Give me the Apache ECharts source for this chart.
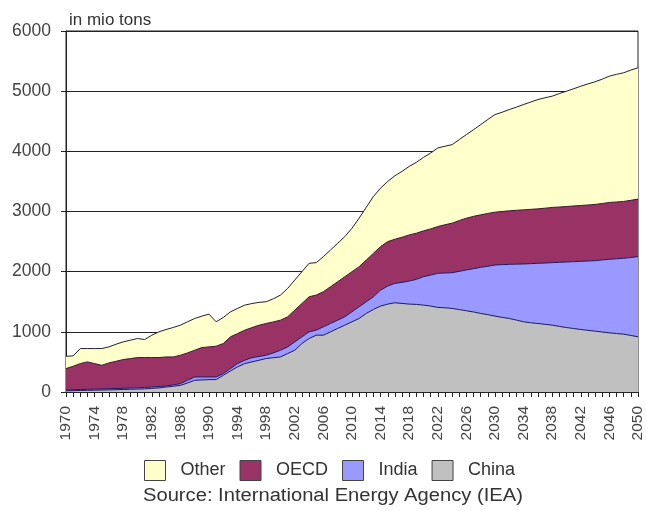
<!DOCTYPE html>
<html>
<head>
<meta charset="utf-8">
<script src="https://cdn.jsdelivr.net/npm/echarts@6/dist/echarts.min.js"></script>
<style>
html,body{margin:0;padding:0;background:#fff;}
#c{width:646px;height:511px;}
</style>
</head>
<body>
<div id="c"></div>
<script>
const years = [];
for (let y = 1970; y <= 2050; y++) years.push(String(y));

const china = [20,22,25,28,30,32,35,38,42,45,48,52,60,68,83,95,110,150,194,200,
  206,206,278,350,417,472,500,528,556,570,583,639,694,806,889,944,944,1000,1056,1111,
  1167,1222,1306,1372,1428,1461,1483,1472,1461,1456,1444,1428,1406,1400,1389,1370,1350,1330,1306,1285,
  1261,1240,1222,1195,1167,1150,1139,1125,1111,1090,1072,1055,1039,1025,1011,997,983,972,961,940,917];
const india = [15,16,17,17,18,18,20,20,20,21,22,23,23,24,17,23,29,45,56,50,
  44,44,28,39,55,56,70,62,55,80,111,111,139,111,111,84,139,139,138,139,
  166,195,194,211,266,300,323,350,383,416,473,516,566,578,594,635,678,720,766,805,
  850,877,900,930,961,983,1000,1019,1039,1065,1089,1111,1133,1152,1172,1198,1223,1242,1261,1296,1333];
const oecd = [354,390,430,455,424,394,428,453,477,490,502,497,489,480,483,465,472,455,444,489,
  500,511,500,528,500,500,500,520,528,515,500,500,528,555,583,583,584,611,639,667,
  667,666,694,723,723,739,733,750,767,767,761,767,778,802,823,845,861,870,872,878,
  878,883,889,895,900,903,905,911,917,920,922,926,928,931,934,938,944,944,945,950,956];
const other = [205,172,250,222,250,278,267,283,294,305,317,300,372,428,456,489,500,517,528,522,
  544,406,433,416,417,416,400,380,361,385,417,472,500,528,556,539,583,611,639,666,
  722,806,878,944,972,1000,1055,1095,1139,1178,1222,1261,1306,1305,1305,1345,1389,1440,1500,1562,
  1622,1650,1683,1715,1750,1784,1817,1835,1850,1885,1917,1948,1983,2012,2039,2067,2100,2122,2139,2164,2183];

const yTicks = [0,1000,2000,3000,4000,5000,6000];

const font = '"Liberation Sans", Arial, sans-serif';

function mk(name, data, fill, line) {
  return {
    name: name, type: 'line', stack: 'total', data: data,
    symbol: 'none', smooth: false,
    color: fill,
    itemStyle: { color: fill, borderColor: '#333', borderWidth: 1 },
    lineStyle: { color: line, width: 1 },
    areaStyle: { color: fill, opacity: 1 },
    emphasis: { disabled: true }
  };
}

const chart = echarts.init(document.getElementById('c'), null, {renderer: 'canvas'});
chart.setOption({
  animation: false,
  backgroundColor: '#fff',
  title: {
    text: 'in mio tons', left: 64, top: 7,
    textStyle: { fontFamily: font, fontSize: 17, fontWeight: 'normal', color: '#333' }
  },
  grid: { left: 66, right: 3, top: 31, bottom: 119, show: true, borderColor: '#222', borderWidth: 1, backgroundColor: 'transparent' },
  xAxis: {
    type: 'category', data: years, boundaryGap: false,
    axisLine: { lineStyle: { color: '#222', width: 1 } },
    axisTick: { show: true, interval: 0, length: 5, lineStyle: { color: '#222' } },
    axisLabel: { interval: 3, rotate: 90, fontFamily: font, fontSize: 15.5, color: '#444', margin: 14 },
    splitLine: { show: false }
  },
  yAxis: {
    type: 'value', min: yTicks[0], max: yTicks[yTicks.length-1], interval: 1000,
    axisLine: { show: true, lineStyle: { color: '#222', width: 1 } },
    axisTick: { show: true, length: 5, lineStyle: { color: '#222' } },
    axisLabel: { fontFamily: font, fontSize: 17.5, color: '#444', margin: 15,
      formatter: function (v) { return String(v); } },
    splitLine: { show: true, lineStyle: { color: '#222', width: 1 } }
  },
  legend: {
    data: ['Other','OECD','India','China'],
    top: 455, left: 139,
    icon: 'rect', itemWidth: 21, itemHeight: 20, itemGap: 14,
    itemStyle: { borderColor: '#444', borderWidth: 1 },
    textStyle: { fontFamily: font, fontSize: 18, color: '#333', padding: [0, 0, 0, 10] }
  },
  graphic: [{
    type: 'text', x: 143, y: 487, scaleX: 1.12,
    style: { text: 'Source: International Energy Agency (IEA)', font: '18px ' + font, fill: '#333' }
  }],
  series: [
    mk('China', china, '#C0C0C0', '#1a1a5a'),
    mk('India', india, '#9999FF', '#1a1a6a'),
    mk('OECD', oecd, '#993366', '#3a1030'),
    mk('Other', other, '#FFFFCC', '#222')
  ]
});
</script>
</body>
</html>
